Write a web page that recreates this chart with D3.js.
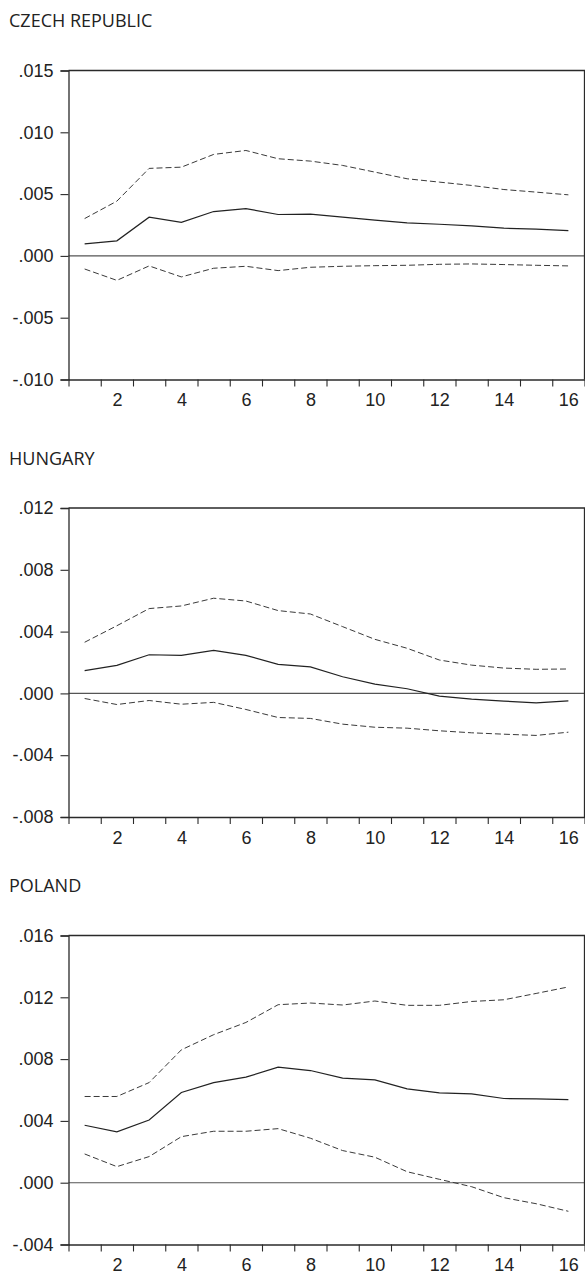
<!DOCTYPE html>
<html>
<head>
<meta charset="utf-8">
<script src="https://cdn.jsdelivr.net/npm/d3@7"></script>
<style>
  html, body { margin: 0; padding: 0; background: #fff; }
  svg { display: block; }
</style>
</head>
<body>
<svg id="chart" width="585" height="1276"></svg>
<script>
// Impulse responses over 16 periods, with upper / lower confidence bands
const periods = d3.range(1, 17);
const xTickLabels = [2, 4, 6, 8, 10, 12, 14, 16];

const countries = ["CZECH REPUBLIC", "HUNGARY", "POLAND"];

const czResponse = [0.00097, 0.00122, 0.00313, 0.00272, 0.00359, 0.00383, 0.00335, 0.00338,
                    0.00313, 0.00289, 0.00267, 0.00256, 0.00243, 0.00224, 0.00216, 0.00205];
const czUpper    = [0.00302, 0.00443, 0.00708, 0.00718, 0.00821, 0.00853, 0.00786, 0.00767,
                    0.00732, 0.00678, 0.00624, 0.00597, 0.00570, 0.00537, 0.00516, 0.00494];
const czLower    = [-0.00106, -0.00198, -0.00081, -0.00170, -0.00100, -0.00084, -0.00119, -0.00092,
                    -0.00084, -0.00079, -0.00076, -0.00068, -0.00065, -0.00070, -0.00076, -0.00081];

const huResponse = [0.00147, 0.00181, 0.00250, 0.00246, 0.00279, 0.00246, 0.00188, 0.00172,
                    0.00108, 0.00060, 0.00030, -0.00018, -0.00037, -0.00050, -0.00061, -0.00048];
const huUpper    = [0.00331, 0.00438, 0.00549, 0.00566, 0.00616, 0.00598, 0.00536, 0.00514,
                    0.00432, 0.00350, 0.00292, 0.00216, 0.00183, 0.00164, 0.00156, 0.00158];
const huLower    = [-0.00033, -0.00072, -0.00046, -0.00070, -0.00058, -0.00104, -0.00156, -0.00162,
                    -0.00199, -0.00219, -0.00225, -0.00242, -0.00255, -0.00264, -0.00272, -0.00251];

const plResponse = [0.00372, 0.00329, 0.00406, 0.00584, 0.00648, 0.00683, 0.00748, 0.00726,
                    0.00677, 0.00666, 0.00607, 0.00582, 0.00575, 0.00545, 0.00543, 0.00538];
const plUpper    = [0.00558, 0.00558, 0.00648, 0.00860, 0.00958, 0.01037, 0.01152, 0.01163,
                    0.01150, 0.01176, 0.01148, 0.01148, 0.01173, 0.01184, 0.01225, 0.01267];
const plLower    = [0.00186, 0.00104, 0.00169, 0.00298, 0.00333, 0.00333, 0.00350, 0.00288,
                    0.00208, 0.00165, 0.00071, 0.00022, -0.00026, -0.00097, -0.00136, -0.00185];

const czYTicks = [-0.010, -0.005, 0.000, 0.005, 0.010, 0.015];
const huYTicks = [-0.008, -0.004, 0.000, 0.004, 0.008, 0.012];
const plYTicks = [-0.004, 0.000, 0.004, 0.008, 0.012, 0.016];

const panels = [
  { title: countries[0], mid: czResponse, hi: czUpper, lo: czLower, ticks: czYTicks },
  { title: countries[1], mid: huResponse, hi: huUpper, lo: huLower, ticks: huYTicks },
  { title: countries[2], mid: plResponse, hi: plUpper, lo: plLower, ticks: plYTicks }
];

const svg = d3.select("#chart");
const left = 68.5, right = 584.5;
const plotH = 309;
const panelTops = [70.5, 508, 935.5];
const axisColor = "#2a2a2a";
const fmt = v => {
  const s = d3.format(".3f")(Math.abs(v)).replace(/^0\./, ".");
  return (v < 0 ? "-" : "") + s;
};

const x = d3.scaleLinear().domain([0.5, 16.5]).range([left, right]);
const boundaries = d3.range(0.5, 17, 1);

panels.forEach((p, i) => {
  const top = panelTops[i];
  const bottom = top + plotH;
  const y = d3.scaleLinear()
    .domain([p.ticks[0], p.ticks[p.ticks.length - 1]])
    .range([bottom, top]);

  const g = svg.append("g");

  // panel title
  g.append("text")
    .attr("x", 9)
    .attr("y", top - 43.5)
    .attr("font-family", "'Open Sans', sans-serif")
    .attr("font-size", 18)
    .attr("fill", "#222")
    .text(p.title);

  // zero reference line
  g.append("line")
    .attr("x1", left).attr("x2", right)
    .attr("y1", y(0)).attr("y2", y(0))
    .attr("stroke", "#555").attr("stroke-width", 1.1);

  // series
  const line = d3.line().x((d, k) => x(periods[k])).y(d => y(d));
  [p.hi, p.lo].forEach(arr => {
    g.append("path")
      .attr("d", line(arr))
      .attr("fill", "none")
      .attr("stroke", "#3a3a3a")
      .attr("stroke-width", 1)
      .attr("stroke-dasharray", "6,3");
  });
  g.append("path")
    .attr("d", line(p.mid))
    .attr("fill", "none")
    .attr("stroke", "#222")
    .attr("stroke-width", 1.2);

  // frame: top and right borders
  g.append("path")
    .attr("d", `M${left},${top}H${right}V${bottom}`)
    .attr("fill", "none")
    .attr("stroke", axisColor)
    .attr("stroke-width", 1.3);

  // left axis
  const yAxis = g.append("g")
    .attr("transform", `translate(${left},0)`)
    .call(d3.axisLeft(y).tickValues(p.ticks).tickFormat(fmt).tickSize(8).tickPadding(7));
  yAxis.select(".domain").attr("stroke", axisColor).attr("stroke-width", 1.3);
  yAxis.selectAll(".tick line").attr("stroke", axisColor).attr("stroke-width", 1.1);
  yAxis.selectAll("text")
    .attr("font-family", "'Liberation Sans', Arial, sans-serif")
    .attr("font-size", 18)
    .attr("fill", "#222");

  // bottom axis: ticks at period boundaries
  const xAxis = g.append("g")
    .attr("transform", `translate(0,${bottom})`)
    .call(d3.axisBottom(x).tickValues(boundaries).tickFormat("").tickSize(7).tickSizeOuter(0));
  xAxis.select(".domain").attr("stroke", axisColor).attr("stroke-width", 1.3);
  xAxis.selectAll(".tick line").attr("stroke", axisColor).attr("stroke-width", 1.1);

  // bottom axis labels at even periods
  const xLab = g.append("g")
    .attr("transform", `translate(0,${bottom})`)
    .call(d3.axisBottom(x).tickValues(xTickLabels).tickSize(0).tickPadding(14));
  xLab.select(".domain").remove();
  xLab.selectAll("text")
    .attr("font-family", "'Liberation Sans', Arial, sans-serif")
    .attr("font-size", 18)
    .attr("fill", "#222");
});
</script>
</body>
</html>
